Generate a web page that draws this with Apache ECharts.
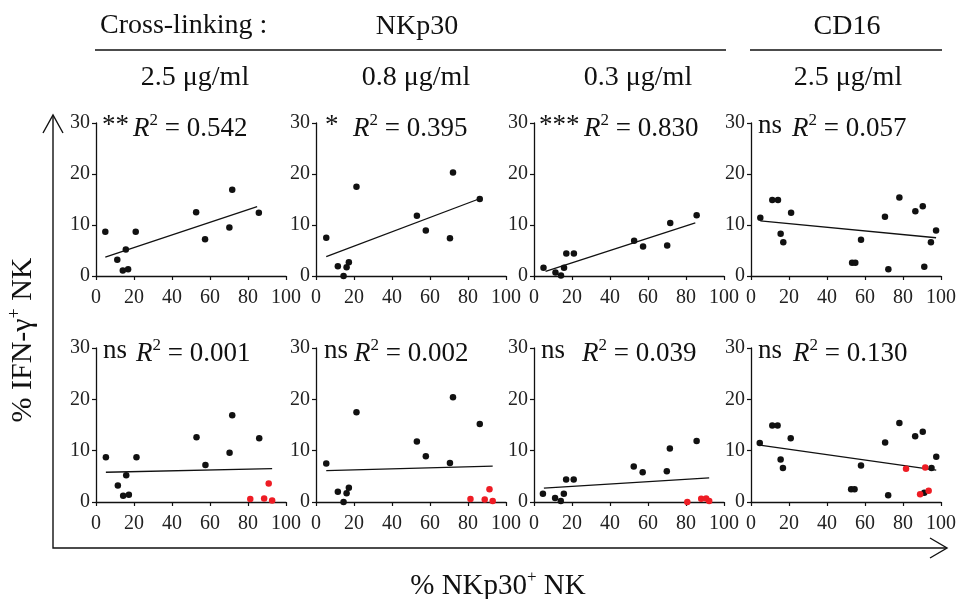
<!DOCTYPE html>
<html>
<head>
<meta charset="utf-8">
<script src="https://cdn.jsdelivr.net/npm/echarts@6/dist/echarts.min.js"></script>
<style>
  html, body { margin: 0; padding: 0; background: #fff; }
  #charts { width: 960px; height: 599px; }
</style>
</head>
<body>
<div id="charts"></div>
<script>
// ---- data ----
// top row: black dots only
var p1x = [4.9, 11.2, 14.1, 15.7, 16.9, 20.9, 52.7, 57.4, 70.2, 71.7, 85.7];
var p1y = [8.7, 3.2, 1.1, 5.2, 1.3, 8.7, 12.5, 7.2, 9.5, 16.9, 12.4];
var p2x = [5.4, 11.5, 14.5, 16.1, 17.3, 21.3, 53.1, 57.8, 70.5, 72.1, 86.2];
var p2y = [7.5, 1.9, 0.0, 1.7, 2.7, 17.5, 11.8, 8.9, 7.4, 20.3, 15.1];
var p3x = [5.0, 11.3, 14.2, 15.8, 17.0, 21.0, 52.7, 57.4, 70.1, 71.7, 85.6];
var p3y = [1.6, 0.7, 0.1, 1.6, 4.4, 4.4, 6.9, 5.8, 6.0, 10.4, 11.9];
var p4x = [4.9, 11.2, 14.2, 15.6, 17.0, 21.1, 53.2, 54.9, 57.9, 70.5, 72.3, 78.1, 86.5, 90.4, 91.2, 94.7, 97.4];
var p4y = [11.4, 14.9, 14.9, 8.3, 6.6, 12.4, 2.6, 2.6, 7.1, 11.6, 1.3, 15.4, 12.7, 13.7, 1.8, 6.6, 8.9];
// bottom row: black dots + red dots
var p5x = [5.2, 11.5, 14.3, 15.9, 17.3, 21.3, 52.9, 57.6, 70.3, 71.7, 85.9];
var p5y = [8.7, 3.2, 1.2, 5.2, 1.4, 8.7, 12.6, 7.2, 9.6, 16.9, 12.4];
var p5rx = [81.2, 88.5, 90.9, 92.7];
var p5ry = [0.6, 0.7, 3.6, 0.3];
var p6x = [5.4, 11.5, 14.5, 16.1, 17.3, 21.3, 53.1, 57.8, 70.5, 72.1, 86.2];
var p6y = [7.5, 2.0, 0.0, 1.7, 2.8, 17.5, 11.8, 8.9, 7.6, 20.4, 15.2];
var p6rx = [81.3, 88.8, 91.3, 93.0];
var p6ry = [0.6, 0.5, 2.5, 0.2];
var p7x = [4.7, 11.1, 14.1, 15.7, 16.9, 20.9, 52.5, 57.2, 69.9, 71.5, 85.6];
var p7y = [1.6, 0.8, 0.2, 1.6, 4.4, 4.4, 6.9, 5.8, 6.0, 10.4, 11.9];
var p7rx = [80.7, 88.0, 90.6, 92.2];
var p7ry = [0.0, 0.65, 0.7, 0.2];
var p8x = [4.6, 11.2, 14.0, 15.6, 16.8, 20.9, 52.7, 54.5, 57.9, 70.6, 72.2, 78.1, 86.4, 90.4, 91.2, 95.0, 97.5];
var p8y = [11.5, 14.9, 14.9, 8.3, 6.6, 12.4, 2.5, 2.5, 7.1, 11.6, 1.3, 15.4, 12.8, 13.7, 1.8, 6.6, 8.8];
var p8rx = [81.6, 89.0, 91.7, 93.5];
var p8ry = [6.5, 1.5, 6.7, 2.2];

// regression line end points (x0, x1) and (y0, y1)
var fitX = [[4.9, 84.8], [5.4, 85.7], [6.1, 84.9], [4.9, 97.4], [5.2, 92.7], [5.4, 93.0], [5.2, 92.2], [4.6, 97.5]];
var fitY = [[3.7, 13.6], [3.8, 15.1], [0.9, 10.4], [10.8, 7.5], [5.8, 6.5], [6.1, 7.0], [2.7, 4.7], [11.1, 6.2]];

var sigLabels = ['**', '*', '***', 'ns', 'ns', 'ns', 'ns', 'ns'];
var r2Labels = ['0.542', '0.395', '0.830', '0.057', '0.001', '0.002', '0.039', '0.130'];
var xTicks = [0, 20, 40, 60, 80, 100];
var yTicks = [0, 10, 20, 30];

var headTop = ['Cross-linking :', 'NKp30', 'CD16'];
var headConc = ['2.5 μg/ml', '0.8 μg/ml', '0.3 μg/ml', '2.5 μg/ml'];

(function () {
  var blackX = [p1x, p2x, p3x, p4x, p5x, p6x, p7x, p8x];
  var blackY = [p1y, p2y, p3y, p4y, p5y, p6y, p7y, p8y];
  var redX = [null, null, null, null, p5rx, p6rx, p7rx, p8rx];
  var redY = [null, null, null, null, p5ry, p6ry, p7ry, p8ry];

  // ---- layout ----
  var FONT = 'Liberation Serif';
  var colLeft = [96, 316, 534, 751];
  var rowTop = [123, 348];
  var gw = 190, gh = 153;
  var sigDx = [6, 9, 5, 7, 7, 8, 7, 7];
  var rDx = [37, 37, 50, 41, 40, 38, 48, 42];

  function pairs(xs, ys) {
    return xs.map(function (x, i) { return [x, ys[i]]; });
  }

  var grids = [], xAxes = [], yAxes = [], series = [], graphics = [];

  for (var i = 0; i < 8; i++) {
    var col = i % 4, row = Math.floor(i / 4);
    var gl = colLeft[col], gt = rowTop[row];
    grids.push({ left: gl, top: gt, width: gw, height: gh + (row ? 1 : 0) });
    xAxes.push({
      gridIndex: i, type: 'value', min: 0, max: 100, interval: 20,
      axisLine: { lineStyle: { color: '#111', width: 1.3 } },
      axisTick: { inside: false, length: 4, lineStyle: { color: '#111', width: 1.2 } },
      axisLabel: { color: '#222', fontFamily: FONT, fontSize: 20, margin: 12,
        formatter: function (v) { return xTicks.indexOf(v) >= 0 ? String(v) : ''; } },
      splitLine: { show: false }
    });
    yAxes.push({
      gridIndex: i, type: 'value', min: 0, max: 30, interval: 10,
      axisLine: { show: true, lineStyle: { color: '#111', width: 1.3 } },
      axisTick: { show: true, inside: false, length: 4, lineStyle: { color: '#111', width: 1.2 } },
      axisLabel: { color: '#222', fontFamily: FONT, fontSize: 20, margin: 6,
        formatter: function (v) { return yTicks.indexOf(v) >= 0 ? String(v) : ''; } },
      splitLine: { show: false }
    });
    series.push({
      type: 'line', xAxisIndex: i, yAxisIndex: i,
      data: pairs(fitX[i], fitY[i]), symbol: 'none', silent: true,
      lineStyle: { color: '#111', width: 1.3 }, z: 2
    });
    series.push({
      type: 'scatter', xAxisIndex: i, yAxisIndex: i,
      data: pairs(blackX[i], blackY[i]), symbolSize: 6.5,
      itemStyle: { color: '#111', opacity: 1 }, z: 3
    });
    if (redX[i]) {
      series.push({
        type: 'scatter', xAxisIndex: i, yAxisIndex: i,
        data: pairs(redX[i], redY[i]), symbolSize: 6.5,
        itemStyle: { color: '#ee1c24', opacity: 1 }, z: 4
      });
    }
    // significance + R² annotation
    graphics.push({
      type: 'text', left: gl + sigDx[i], top: gt - 11,
      style: { text: sigLabels[i], font: '27px "' + FONT + '"', fill: '#111' }
    });
    graphics.push({
      type: 'text', left: gl + rDx[i], top: gt - 11,
      style: {
        text: '{r|R}{s|2}{t| = ' + r2Labels[i] + '}',
        fill: '#111',
        rich: {
          r: { fontFamily: FONT, fontSize: 27, fontStyle: 'italic', lineHeight: 30, verticalAlign: 'bottom', fill: '#111' },
          s: { fontFamily: FONT, fontSize: 17, lineHeight: 30, verticalAlign: 'top', fill: '#111' },
          t: { fontFamily: FONT, fontSize: 27, lineHeight: 30, verticalAlign: 'bottom', fill: '#111' }
        }
      }
    });
  }

  // headers
  var headFont = '28px "' + FONT + '"';
  graphics.push(
    { type: 'text', left: 100, top: 12, style: { text: headTop[0], font: headFont, fill: '#111' } },
    { type: 'text', x: 417, y: 27, style: { text: headTop[1], font: headFont, fill: '#111', align: 'center', verticalAlign: 'middle' } },
    { type: 'text', x: 847, y: 27, style: { text: headTop[2], font: headFont, fill: '#111', align: 'center', verticalAlign: 'middle' } },
    { type: 'line', shape: { x1: 95, y1: 50, x2: 726, y2: 50 }, style: { stroke: '#111', lineWidth: 1.6 } },
    { type: 'line', shape: { x1: 750, y1: 50, x2: 942, y2: 50 }, style: { stroke: '#111', lineWidth: 1.6 } }
  );
  var concCx = [195, 416, 638, 848];
  for (var c = 0; c < 4; c++) {
    graphics.push({ type: 'text', x: concCx[c], y: 78,
      style: { text: headConc[c], font: headFont, fill: '#111', align: 'center', verticalAlign: 'middle' } });
  }

  // big arrows and axis titles
  graphics.push(
    { type: 'polyline', shape: { points: [[53, 116], [53, 548], [946, 548]] }, style: { stroke: '#111', lineWidth: 1.4, fill: null } },
    { type: 'polyline', shape: { points: [[43, 133], [53, 115], [63, 133]] }, style: { stroke: '#111', lineWidth: 1.4, fill: null } },
    { type: 'polyline', shape: { points: [[930, 538], [947, 548], [930, 558]] }, style: { stroke: '#111', lineWidth: 1.4, fill: null } },
    {
      type: 'text', x: 22, y: 340, rotation: Math.PI / 2,
      style: {
        text: '{t|% IFN-γ}{s|+}{t| NK}', align: 'center', verticalAlign: 'middle',
        rich: {
          t: { fontFamily: FONT, fontSize: 30, lineHeight: 32, verticalAlign: 'bottom', fill: '#111' },
          s: { fontFamily: FONT, fontSize: 18, lineHeight: 32, verticalAlign: 'top', fill: '#111' }
        }
      }
    },
    {
      type: 'text', x: 498, y: 585,
      style: {
        text: '{t|% NKp30}{s|+}{t| NK}', align: 'center', verticalAlign: 'middle',
        rich: {
          t: { fontFamily: FONT, fontSize: 29, lineHeight: 32, verticalAlign: 'bottom', fill: '#111' },
          s: { fontFamily: FONT, fontSize: 17, lineHeight: 32, verticalAlign: 'top', fill: '#111' }
        }
      }
    }
  );

  var myChart = echarts.init(document.getElementById('charts'));
  myChart.setOption({
    animation: false,
    backgroundColor: '#fff',
    grid: grids,
    xAxis: xAxes,
    yAxis: yAxes,
    series: series,
    graphic: graphics
  });
})();
</script>
</body>
</html>
